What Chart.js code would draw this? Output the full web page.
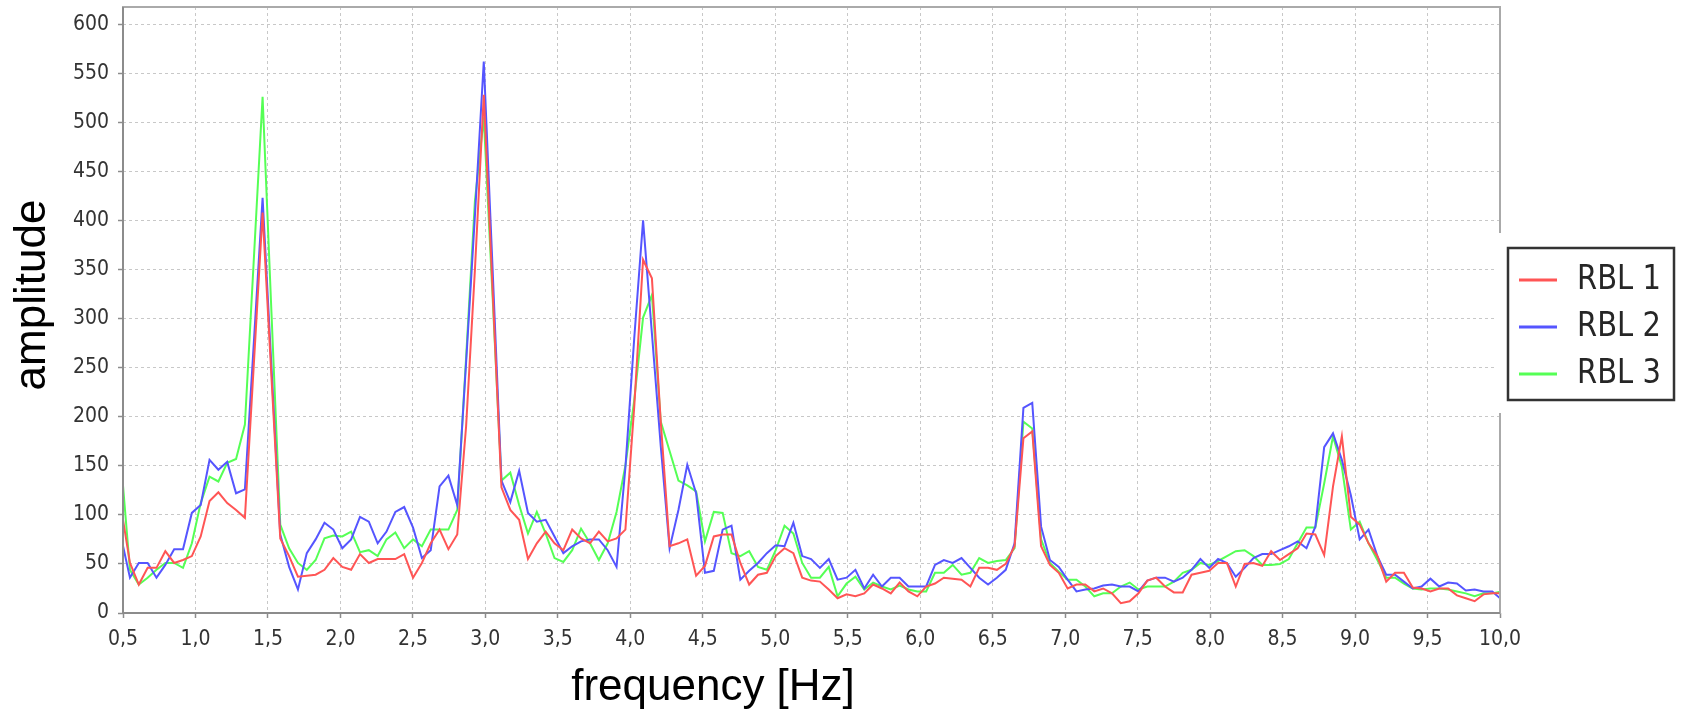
<!DOCTYPE html>
<html>
<head>
<meta charset="utf-8">
<script src="https://cdn.jsdelivr.net/npm/chart.js@4.4.0/dist/chart.umd.min.js"></script>
<style>
  html, body { margin: 0; padding: 0; background: #fff; }
  #wrap { width: 1683px; height: 710px; }
</style>
</head>
<body>
<div id="wrap"><canvas id="spectrumChart" width="1683" height="710"></canvas></div>
<script>
// frequency bins [Hz]
const frequencies = [
  0.487, 0.548, 0.609, 0.670, 0.731, 0.792, 0.853, 0.914, 0.975, 1.036,
  1.097, 1.158, 1.219, 1.280, 1.341, 1.402, 1.463, 1.524, 1.585, 1.646,
  1.707, 1.768, 1.829, 1.890, 1.951, 2.013, 2.074, 2.135, 2.196, 2.257,
  2.318, 2.379, 2.440, 2.501, 2.562, 2.623, 2.684, 2.745, 2.806, 2.867,
  2.928, 2.989, 3.050, 3.111, 3.172, 3.233, 3.294, 3.355, 3.416, 3.477,
  3.538, 3.599, 3.660, 3.722, 3.783, 3.844, 3.905, 3.966, 4.027, 4.088,
  4.149, 4.210, 4.271, 4.332, 4.393, 4.454, 4.515, 4.576, 4.637, 4.698,
  4.759, 4.820, 4.881, 4.942, 5.003, 5.064, 5.125, 5.186, 5.247, 5.308,
  5.369, 5.430, 5.492, 5.553, 5.614, 5.675, 5.736, 5.797, 5.858, 5.919,
  5.980, 6.041, 6.102, 6.163, 6.224, 6.285, 6.346, 6.407, 6.468, 6.529,
  6.590, 6.651, 6.712, 6.773, 6.834, 6.895, 6.956, 7.017, 7.078, 7.139,
  7.201, 7.262, 7.323, 7.384, 7.445, 7.506, 7.567, 7.628, 7.689, 7.750,
  7.811, 7.872, 7.933, 7.994, 8.055, 8.116, 8.177, 8.238, 8.299, 8.360,
  8.421, 8.482, 8.543, 8.604, 8.665, 8.726, 8.787, 8.848, 8.909, 8.971,
  9.032, 9.093, 9.154, 9.215, 9.276, 9.337, 9.398, 9.459, 9.520, 9.581,
  9.642, 9.703, 9.764, 9.825, 9.886, 9.947, 10.008
];

const rbl1 = [
  107, 51, 29, 46, 46, 63, 51, 54, 58, 78,
  114, 123, 112, 105, 97, 252, 408, 241, 76, 58,
  37, 38, 39, 44, 56, 47, 44, 60, 51, 55,
  55, 55, 60, 36, 51, 71, 85, 65, 80, 190,
  350, 528, 329, 128, 105, 95, 55, 71, 83, 71,
  64, 85, 76, 71, 83, 73, 76, 85, 210, 360,
  341, 195, 68, 71, 75, 38, 48, 78, 80, 80,
  51, 29, 39, 41, 58, 66, 61, 36, 33, 32,
  24, 15, 19, 17, 20, 29, 25, 20, 31, 22,
  17, 27, 30, 36, 35, 34, 27, 46, 46, 44,
  50, 68, 178, 185, 68, 49, 41, 25, 29, 29,
  22, 25, 20, 10, 12, 20, 33, 36, 27, 21,
  21, 39, 41, 43, 51, 51, 27, 50, 51, 48,
  63, 54, 60, 66, 81, 80, 59, 129, 180, 98,
  90, 71, 58, 32, 41, 41, 26, 25, 22, 25,
  25, 18, 15, 12, 19, 20, 20
];

const rbl2 = [
  77, 36, 51, 51, 36, 49, 65, 65, 102, 110,
  156, 146, 154, 122, 126, 274, 423, 251, 80, 47,
  24, 61, 75, 92, 85, 66, 75, 98, 93, 71,
  83, 103, 108, 87, 56, 64, 129, 140, 110, 255,
  405, 562, 350, 135, 113, 145, 102, 93, 95, 78,
  61, 68, 73, 75, 75, 64, 47, 148, 280, 400,
  285, 170, 66, 105, 151, 122, 41, 43, 85, 89,
  34, 43, 51, 61, 69, 68, 92, 58, 55, 46,
  55, 34, 36, 44, 25, 39, 27, 36, 36, 27,
  27, 27, 49, 54, 51, 56, 46, 36, 29, 36,
  44, 71, 209, 214, 88, 54, 47, 34, 22, 24,
  25, 28, 29, 27, 27, 22, 33, 36, 36, 32,
  36, 44, 55, 46, 55, 51, 37, 46, 56, 60,
  60, 64, 68, 73, 66, 88, 169, 183, 156, 120,
  75, 85, 58, 39, 39, 32, 25, 27, 35, 27,
  31, 30, 23, 24, 22, 22, 14
];

const rbl3 = [
  153, 44, 29, 36, 44, 51, 51, 46, 71, 112,
  139, 134, 153, 157, 192, 359, 526, 307, 90, 66,
  51, 44, 54, 76, 79, 78, 83, 62, 64, 58,
  75, 82, 66, 75, 68, 85, 85, 85, 105, 260,
  420, 505, 322, 135, 143, 110, 81, 103, 81, 56,
  52, 64, 86, 71, 54, 71, 103, 150, 217, 301,
  324, 195, 165, 135, 130, 124, 73, 103, 102, 61,
  58, 63, 47, 44, 64, 89, 81, 51, 36, 36,
  47, 17, 30, 37, 24, 31, 27, 24, 28, 24,
  22, 22, 41, 41, 49, 39, 41, 56, 51, 53,
  54, 66, 195, 188, 75, 51, 42, 34, 34, 27,
  17, 20, 20, 27, 31, 24, 27, 27, 27, 32,
  41, 44, 51, 49, 53, 58, 63, 64, 58, 49,
  49, 50, 55, 71, 87, 87, 132, 180, 149, 85,
  93, 71, 54, 36, 36, 30, 25, 24, 25, 25,
  24, 22, 20, 17, 20, 20, 22
];

const seriesNames = ['RBL 1', 'RBL 2', 'RBL 3'];
const seriesColors = ['#ff5555', '#5555ff', '#55ff55'];
const xTicks = [0.5, 1.0, 1.5, 2.0, 2.5, 3.0, 3.5, 4.0, 4.5, 5.0, 5.5, 6.0, 6.5, 7.0, 7.5, 8.0, 8.5, 9.0, 9.5, 10.0];
const yTicks = [0, 50, 100, 150, 200, 250, 300, 350, 400, 450, 500, 550, 600];
const xTitle = 'frequency [Hz]';
const yTitle = 'amplitude';

const tickFont = { family: "'DejaVu Sans Condensed', 'DejaVu Sans', sans-serif", size: 21 };
const titleFont = '44px "Liberation Sans", Arial, sans-serif';

function toPoints(values) {
    return frequencies.map((f, i) => ({ x: f, y: values[i] }));
}

// frame, axis titles and boxed legend like the original plot
const decorations = {
    id: 'decorations',
    afterDraw(chart) {
        const ctx = chart.ctx;
        const a = chart.chartArea;
        ctx.save();

        ctx.strokeStyle = '#aaaaaa';
        ctx.lineWidth = 2;
        ctx.strokeRect(a.left, a.top, a.right - a.left, a.bottom - a.top);
        ctx.strokeStyle = '#8c8c8c';
        ctx.beginPath();
        ctx.moveTo(a.left, a.top);
        ctx.lineTo(a.left, a.bottom);
        ctx.lineTo(a.right, a.bottom);
        ctx.stroke();

        ctx.fillStyle = '#000';
        ctx.font = titleFont;
        ctx.textAlign = 'center';
        ctx.textBaseline = 'alphabetic';
        ctx.fillText(xTitle, 713, 700);
        ctx.translate(45, 295);
        ctx.rotate(-Math.PI / 2);
        ctx.fillText(yTitle, 0, 0);
        ctx.restore();

        // legend
        ctx.save();
        ctx.fillStyle = '#fff';
        ctx.fillRect(1497, 233, 186, 180);
        ctx.strokeStyle = '#333';
        ctx.lineWidth = 2.5;
        ctx.strokeRect(1508, 248, 166, 152);
        chart.data.datasets.forEach((ds, i) => {
            const y = 280 + i * 47;
            ctx.strokeStyle = ds.borderColor;
            ctx.lineWidth = 3;
            ctx.beginPath();
            ctx.moveTo(1519, y);
            ctx.lineTo(1557, y);
            ctx.stroke();
            ctx.save();
            ctx.translate(1577, y);
            ctx.scale(1, 1.18);
            ctx.fillStyle = '#262626';
            ctx.font = "29px 'DejaVu Sans', sans-serif";
            ctx.textAlign = 'left';
            ctx.textBaseline = 'middle';
            ctx.fillText(ds.label, 0, 0);
            ctx.restore();
        });
        ctx.restore();
    }
};

new Chart(document.getElementById('spectrumChart'), {
    type: 'line',
    data: {
        datasets: [rbl1, rbl2, rbl3].map((values, i) => ({
            label: seriesNames[i],
            data: toPoints(values),
            borderColor: seriesColors[i],
            backgroundColor: seriesColors[i],
            borderWidth: 2,
            pointRadius: 0,
            tension: 0,
            fill: false
        }))
    },
    options: {
        responsive: false,
        animation: false,
        devicePixelRatio: 1,
        layout: { padding: { left: 0, right: 183, top: 7, bottom: 0 } },
        plugins: { legend: { display: false }, tooltip: { enabled: false } },
        scales: {
            x: {
                type: 'linear',
                min: 0.5,
                max: 10,
                afterBuildTicks: s => { s.ticks = xTicks.map(v => ({ value: v })); },
                afterFit: s => { s.height = 97; s.paddingLeft = 0; s.paddingRight = 0; },
                grid: { color: '#c8c8c8', lineWidth: 1, tickLength: 5, tickColor: '#8c8c8c', tickWidth: 1.5 },
                border: { display: false, dash: [3, 3] },
                ticks: {
                    autoSkip: false, maxRotation: 0, padding: 9,
                    color: '#333333', font: tickFont,
                    callback: v => v.toFixed(1).replace('.', ',')
                }
            },
            y: {
                min: 0,
                max: 617.5,
                afterBuildTicks: s => { s.ticks = yTicks.map(v => ({ value: v })); },
                afterFit: s => { s.width = 123; s.paddingTop = 0; s.paddingBottom = 0; },
                grid: { color: '#c8c8c8', lineWidth: 1, tickLength: 5, tickColor: '#8c8c8c', tickWidth: 1.5 },
                border: { display: false, dash: [3, 3] },
                ticks: { padding: 9, color: '#333333', font: tickFont, callback: v => String(v) }
            }
        }
    },
    plugins: [decorations]
});
</script>
</body>
</html>
